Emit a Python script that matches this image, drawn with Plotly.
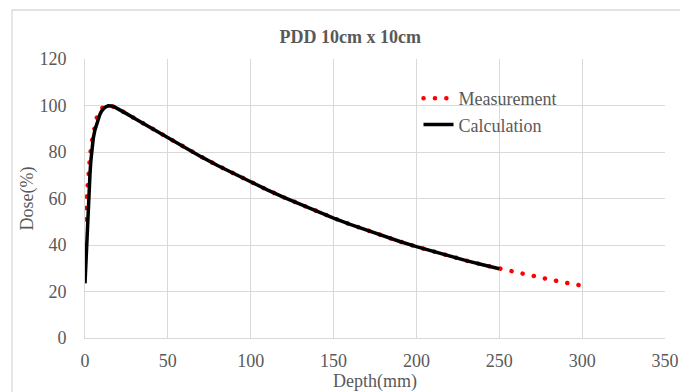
import plotly.graph_objects as go

# Measurement (red dotted)
meas_depth = [0, 0.5, 1, 1.5, 2, 2.5, 3, 4, 5, 6, 7, 8, 9, 10, 12, 14, 15, 16, 18, 20,
              25, 30, 35, 40, 45, 50, 60, 70, 80, 90, 100, 110, 120, 130, 140, 150,
              160, 170, 180, 190, 200, 210, 220, 230, 240, 250, 260, 270, 280, 290, 300, 304]
meas_dose = [51, 56, 60.5, 65, 69.5, 74, 78, 84, 88.5, 92, 94.5, 96.5, 97.8, 98.7, 99.6, 100, 100, 99.8, 99.3, 98.6,
             96.5, 94.4, 92.3, 90.3, 88.2, 86.1, 82.0, 78.0, 74.2, 70.6, 67.1, 63.7, 60.5, 57.4, 54.4, 51.6,
             48.9, 46.3, 43.8, 41.5, 39.3, 37.2, 35.2, 33.3, 31.5, 29.8, 28.2, 26.6, 25.2, 23.8, 22.5, 22.0]

# Calculation (black solid)
calc_depth = [0, 0.5, 1, 1.5, 2, 2.5, 3, 3.5, 4, 5, 6, 7, 8, 9, 10, 12, 14, 15, 16, 18, 20,
              25, 30, 35, 40, 45, 50, 60, 70, 80, 90, 100, 110, 120, 130, 140, 150,
              160, 170, 180, 190, 200, 210, 220, 230, 240, 250]
calc_dose = [23.5, 33, 42, 51, 59, 65.5, 70.5, 76, 80.5, 86, 89.5, 92, 94.5, 96.2, 97.6, 99.2, 99.9, 100, 99.8, 99.3, 98.6,
             96.5, 94.4, 92.3, 90.3, 88.2, 86.1, 82.0, 78.0, 74.2, 70.6, 67.1, 63.7, 60.5, 57.4, 54.4, 51.6,
             48.9, 46.3, 43.8, 41.5, 39.3, 37.2, 35.2, 33.3, 31.5, 29.8]

x_ticks = [0, 50, 100, 150, 200, 250, 300, 350]
y_ticks = [0, 20, 40, 60, 80, 100, 120]

FONT = "Liberation Serif"
GRID = "#d9d9d9"
TXT = "#595959"

fig = go.Figure()
fig.add_trace(go.Scatter(x=meas_depth, y=meas_dose, mode="lines", name="Measurement",
                         line=dict(color="#ff0000", width=4.5, dash="4.5px,6.8px")))
fig.add_trace(go.Scatter(x=calc_depth, y=calc_dose, mode="lines", name="Calculation",
                         line=dict(color="#000000", width=3.5)))

fig.update_layout(
    width=680, height=392,
    margin=dict(l=85, r=15, t=59, b=54, autoexpand=False),
    paper_bgcolor="white", plot_bgcolor="white",
    font=dict(family=FONT, size=18, color=TXT),
    title=dict(text="<b>PDD 10cm x 10cm</b>", x=0.515, xref="container", xanchor="center",
               y=1 - 37 / 392, yref="container", yanchor="middle",
               font=dict(family=FONT, size=18, color=TXT), automargin=False),
    showlegend=True,
    legend=dict(x=0.575, y=0.925, xanchor="left", yanchor="top", bgcolor="rgba(0,0,0,0)",
                font=dict(family=FONT, size=18, color=TXT), tracegroupgap=0),
    xaxis=dict(range=[0, 350], tickvals=x_ticks, showgrid=True, gridcolor=GRID, gridwidth=1,
               showline=True, linecolor=GRID, linewidth=1, zeroline=False, mirror=False,
               ticks="", ticklabelstandoff=6, automargin=False,
               tickfont=dict(family=FONT, size=18, color=TXT),
               title=dict(text="Depth(mm)", standoff=4, font=dict(family=FONT, size=18, color=TXT))),
    yaxis=dict(range=[0, 120], tickvals=y_ticks, showgrid=True, gridcolor=GRID, gridwidth=1,
               showline=True, linecolor=GRID, linewidth=1, zeroline=False,
               ticks="", ticklabelstandoff=14, automargin=False,
               tickfont=dict(family=FONT, size=18, color=TXT),
               title=dict(text="Dose(%)", standoff=1, font=dict(family=FONT, size=18, color=TXT))),
    shapes=[dict(type="rect", xref="paper", yref="paper", x0=-0.1259, x1=1.2, y0=-0.3, y1=1.1756,
                 line=dict(color=GRID, width=1.3), fillcolor="rgba(0,0,0,0)", layer="below")],
)

post = """
var paths = document.querySelectorAll('path');
paths.forEach(function(p){
  if (p.style.stroke === 'rgb(255, 0, 0)') {
    p.style.strokeLinecap = 'round';
    p.style.strokeDasharray = '0.1px,11.3px';
  }
});
"""
fig.write_html("out.html", post_script=post)
